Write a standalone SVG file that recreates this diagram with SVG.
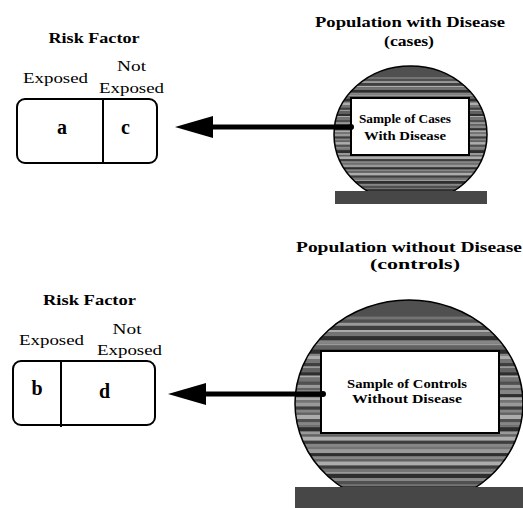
<svg xmlns="http://www.w3.org/2000/svg" xmlns:xlink="http://www.w3.org/1999/xlink" width="523" height="508" viewBox="0 0 523 508" font-family="'Liberation Serif', 'Times New Roman', Times, serif">
  <style>
    text { font-family: 'Liberation Serif', 'Times New Roman', Times, serif; fill: #000; }
    .hd { font-size: 15px; font-weight: bold; text-anchor: middle; }
    .ttl { font-size: 15px; font-weight: bold; text-anchor: middle; }
    .lb { font-size: 15.5px; text-anchor: middle; }
    .cell { font-size: 20px; font-weight: bold; text-anchor: middle; }
    .smp { font-size: 12px; font-weight: bold; text-anchor: middle; }
    .table { fill: #fff; stroke: #000; stroke-width: 2; }
    .div { stroke: #000; stroke-width: 2; }
    .rim { fill: none; stroke: #000; stroke-width: 1.5; }
    .base { fill: #474747; }
    .box { fill: #fff; stroke: #000; stroke-width: 2; }
    .link { fill: none; stroke: #000; stroke-width: 5; marker-start: url(#dot); marker-end: url(#head); }
    .g1 { fill: #2e2e2e; } .g2 { fill: #3e3e3e; } .g3 { fill: #505050; } .g4 { fill: #626262; }
    .g5 { fill: #747474; } .g6 { fill: #868686; } .g7 { fill: #999; } .g8 { fill: #acacac; }
  </style>
  <defs>
    <marker id="head" markerUnits="userSpaceOnUse" markerWidth="40" markerHeight="24" refX="13" refY="11" orient="auto">
      <path d="M0,0 L38,11 L0,22 Z" fill="#000"/>
    </marker>
    <marker id="dot" markerUnits="userSpaceOnUse" markerWidth="8" markerHeight="8" refX="4" refY="4" orient="auto">
      <circle cx="4" cy="4" r="3" fill="#000"/>
    </marker>
    <!-- horizontal banding in a 100x100 unit box, scaled into each population disc -->
    <g id="bands">
      <rect x="0" y="0" width="100" height="100" class="g3"/>
      <rect x="0" y="8" width="100" height="1.5" class="g5"/>
      <rect x="0" y="9.5" width="100" height="1.5" class="g3"/>
      <rect x="0" y="11" width="100" height="1.5" class="g7"/>
      <rect x="0" y="12.5" width="100" height="2" class="g2"/>
      <rect x="0" y="14.5" width="100" height="1" class="g8"/>
      <rect x="0" y="15.5" width="100" height="2" class="g5"/>
      <rect x="0" y="17.5" width="100" height="2" class="g1"/>
      <rect x="0" y="19.5" width="100" height="1.5" class="g6"/>
      <rect x="0" y="21" width="100" height="1" class="g7"/>
      <rect x="0" y="22" width="100" height="2" class="g4"/>
      <rect x="0" y="24" width="100" height="2" class="g1"/>
      <rect x="0" y="26" width="100" height="1" class="g6"/>
      <rect x="0" y="27" width="100" height="1.5" class="g8"/>
      <rect x="0" y="28.5" width="100" height="2" class="g5"/>
      <rect x="0" y="30.5" width="100" height="1.5" class="g2"/>
      <rect x="0" y="32" width="100" height="1" class="g7"/>
      <rect x="0" y="33" width="100" height="2" class="g4"/>
      <rect x="0" y="35" width="100" height="1.5" class="g1"/>
      <rect x="0" y="36.5" width="100" height="1" class="g8"/>
      <rect x="0" y="37.5" width="100" height="2" class="g5"/>
      <rect x="0" y="39.5" width="100" height="1.5" class="g3"/>
      <rect x="0" y="41" width="100" height="1.5" class="g7"/>
      <rect x="0" y="42.5" width="100" height="1" class="g4"/>
      <rect x="0" y="43.5" width="100" height="2" class="g6"/>
      <rect x="0" y="45.5" width="100" height="1.5" class="g1"/>
      <rect x="0" y="47" width="100" height="1.5" class="g8"/>
      <rect x="0" y="48.5" width="100" height="1" class="g5"/>
      <rect x="0" y="49.5" width="100" height="2" class="g7"/>
      <rect x="0" y="51.5" width="100" height="1.5" class="g2"/>
      <rect x="0" y="53" width="100" height="1.5" class="g6"/>
      <rect x="0" y="54.5" width="100" height="1" class="g4"/>
      <rect x="0" y="55.5" width="100" height="2" class="g8"/>
      <rect x="0" y="57.5" width="100" height="1.5" class="g3"/>
      <rect x="0" y="59" width="100" height="1.5" class="g6"/>
      <rect x="0" y="60.5" width="100" height="1" class="g5"/>
      <rect x="0" y="61.5" width="100" height="2" class="g1"/>
      <rect x="0" y="63.5" width="100" height="1.5" class="g7"/>
      <rect x="0" y="65" width="100" height="1" class="g4"/>
      <rect x="0" y="66" width="100" height="2" class="g8"/>
      <rect x="0" y="68" width="100" height="1.5" class="g2"/>
      <rect x="0" y="69.5" width="100" height="1.5" class="g6"/>
      <rect x="0" y="71" width="100" height="1" class="g5"/>
      <rect x="0" y="72" width="100" height="2" class="g7"/>
      <rect x="0" y="74" width="100" height="1.5" class="g1"/>
      <rect x="0" y="75.5" width="100" height="1.5" class="g6"/>
      <rect x="0" y="77" width="100" height="1" class="g4"/>
      <rect x="0" y="78" width="100" height="2" class="g8"/>
      <rect x="0" y="80" width="100" height="1.5" class="g2"/>
      <rect x="0" y="81.5" width="100" height="1.5" class="g5"/>
      <rect x="0" y="83" width="100" height="1" class="g7"/>
      <rect x="0" y="84" width="100" height="2" class="g1"/>
      <rect x="0" y="86" width="100" height="1.5" class="g6"/>
      <rect x="0" y="87.5" width="100" height="1.5" class="g3"/>
      <rect x="0" y="89" width="100" height="1" class="g5"/>
      <rect x="0" y="90" width="100" height="2" class="g1"/>
      <rect x="0" y="92" width="100" height="1.5" class="g4"/>
      <rect x="0" y="93.5" width="100" height="2" class="g2"/>
    </g>
    <clipPath id="clipCases"><ellipse cx="410.5" cy="134.5" rx="76.5" ry="68.5"/></clipPath>
    <clipPath id="clipControls"><ellipse cx="409" cy="403.5" rx="114" ry="103.5"/></clipPath>
  </defs>

  <!-- exposure table for cases -->
  <g id="table-cases">
    <text class="hd" x="94" y="43" textLength="91" lengthAdjust="spacingAndGlyphs">Risk Factor</text>
    <text class="lb" x="55.5" y="83" textLength="65" lengthAdjust="spacingAndGlyphs">Exposed</text>
    <text class="lb" x="131.5" y="71" textLength="29" lengthAdjust="spacingAndGlyphs">Not</text>
    <text class="lb" x="131.5" y="93" textLength="65" lengthAdjust="spacingAndGlyphs">Exposed</text>
    <rect class="table" x="17" y="99" width="140" height="64" rx="8"/>
    <line class="div" x1="103" y1="99" x2="103" y2="163"/>
    <text class="cell" x="62" y="134">a</text>
    <text class="cell" x="125.5" y="134">c</text>
  </g>

  <!-- exposure table for controls -->
  <g id="table-controls">
    <text class="hd" x="89.5" y="305" textLength="93" lengthAdjust="spacingAndGlyphs">Risk Factor</text>
    <text class="lb" x="51.5" y="345" textLength="65" lengthAdjust="spacingAndGlyphs">Exposed</text>
    <text class="lb" x="127" y="334" textLength="29" lengthAdjust="spacingAndGlyphs">Not</text>
    <text class="lb" x="129.5" y="355" textLength="65" lengthAdjust="spacingAndGlyphs">Exposed</text>
    <rect class="table" x="13" y="361" width="142" height="64" rx="8"/>
    <line class="div" x1="61" y1="361" x2="61" y2="427"/>
    <text class="cell" x="37" y="395">b</text>
    <text class="cell" x="104.5" y="398">d</text>
  </g>

  <!-- population with disease -->
  <g id="population-cases">
    <text class="ttl" x="410" y="27" textLength="190" lengthAdjust="spacingAndGlyphs">Population with Disease</text>
    <text class="ttl" x="409" y="46" textLength="50" lengthAdjust="spacingAndGlyphs">(cases)</text>
    <g clip-path="url(#clipCases)">
      <use xlink:href="#bands" transform="translate(334,66) scale(1.53,1.37)"/>
    </g>
    <ellipse class="rim" cx="410.5" cy="134.5" rx="76.5" ry="68.5"/>
    <rect class="base" x="335" y="191" width="152" height="13"/>
    <rect class="box" x="351" y="98" width="118" height="57"/>
    <text class="smp" x="405" y="123" textLength="92" lengthAdjust="spacingAndGlyphs">Sample of Cases</text>
    <text class="smp" x="405" y="140" textLength="82" lengthAdjust="spacingAndGlyphs">With Disease</text>
  </g>

  <!-- population without disease -->
  <g id="population-controls">
    <text class="ttl" x="409" y="252" textLength="226" lengthAdjust="spacingAndGlyphs">Population without  Disease</text>
    <text class="ttl" x="415" y="269" textLength="90" lengthAdjust="spacingAndGlyphs">(controls)</text>
    <g clip-path="url(#clipControls)">
      <use xlink:href="#bands" transform="translate(295,300) scale(2.28,2.07)"/>
    </g>
    <ellipse class="rim" cx="409" cy="403.5" rx="114" ry="103.5"/>
    <rect class="base" x="295" y="487" width="228" height="21"/>
    <rect class="box" x="321" y="351" width="178" height="82"/>
    <text class="smp" x="407" y="388" textLength="120" lengthAdjust="spacingAndGlyphs">Sample of Controls</text>
    <text class="smp" x="407" y="403" textLength="110" lengthAdjust="spacingAndGlyphs">Without Disease</text>
  </g>

  <!-- sampling arrows back to the exposure tables -->
  <g id="connectors">
    <path class="link" d="M351,127 L200,127"/>
    <path class="link" d="M323,394 L193,394"/>
  </g>
</svg>
